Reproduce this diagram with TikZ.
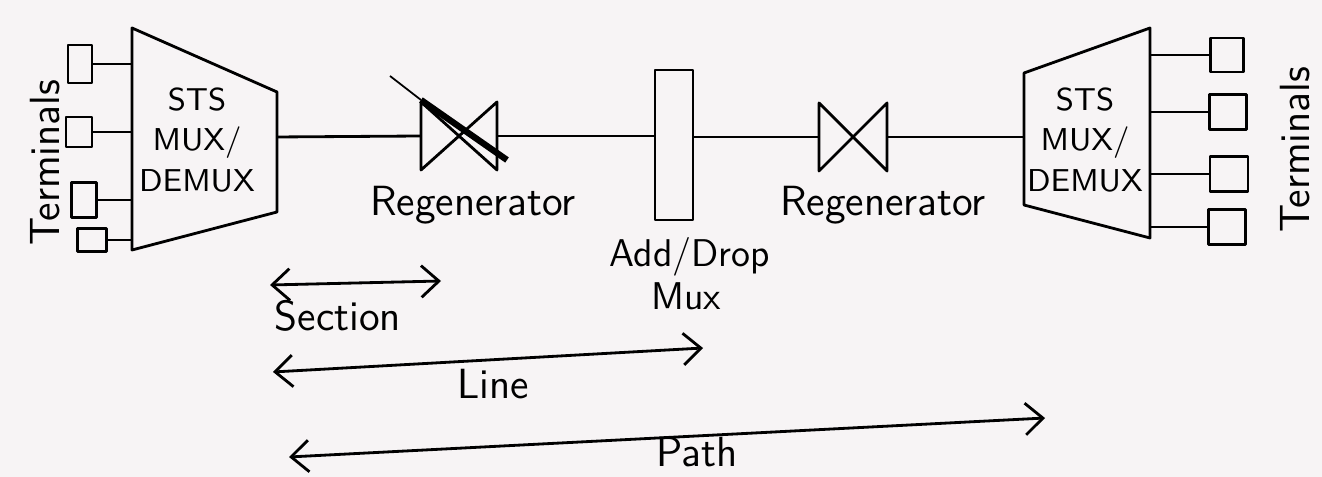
\documentclass[tikz,border=0pt]{standalone}
\usetikzlibrary{arrows.meta,positioning}
\definecolor{paper}{RGB}{247,244,245}
\tikzset{
  wire/.style={line width=0.8pt},
  term/.style={draw, line width=0.8pt, inner sep=0pt},
  tag/.style={font=\sffamily\fontsize{12}{14}\selectfont, align=center, inner sep=1pt},
  muxtag/.style={font=\sffamily\fontsize{9}{11.5}\selectfont, align=center},
  span/.style={line width=0.8pt, {Straight Barb[length=5pt,width=9pt]}-{Straight Barb[length=5pt,width=9pt]}},
  bowtie/.pic={
    \draw[wire] (-#1,-34) -- (-#1,34) -- (#1,-34) -- (#1,34) -- cycle;
    \coordinate (-w) at (-#1,0);
    \coordinate (-e) at (#1,0);
  },
}

\begin{document}
\begin{tikzpicture}[x=0.01cm, y=-0.01cm, line join=round]
\fill[paper] (0,0) rectangle (1322,477);
\useasboundingbox (0,0) rectangle (1322,477);

% left STS mux
\coordinate (lmTL) at (132,28);
\coordinate (lmBL) at (132,250);
\coordinate (lmTR) at (277,92);
\coordinate (lmBR) at (277,212);
\coordinate (lmR) at (277,137);
\draw[wire] (lmTL) -- (lmTR) -- (lmBR) -- (lmBL) -- cycle;
\node[muxtag] (lmux) at (197,140) {STS\\MUX/\\DEMUX};

\foreach \n/\x/\y/\w/\h in {1/80/64/24/38, 2/79/132/26/30, 3/84/200/25/35, 4/92/240/29/23} {
  \node[term, minimum width=\w*0.01cm, minimum height=\h*0.01cm] (lt\n) at (\x,\y) {};
  \draw[wire] (lt\n.east) -- (lt\n.east -| lmTL);
}
\node[tag, rotate=90] (lterm) at (45,163) {Terminals};

% regenerators and add/drop mux
\pic (r1) at (459,136) {bowtie=38};
\draw[line width=0.5pt] (390,76) -- (421,100);
\draw[line width=1.8pt] (421,100) -- (507,160);
\node[tag] (r1lab) at (473,205) {Regenerator};

\node[draw, wire, minimum width=0.38cm, minimum height=1.5cm] (adm) at (674,145) {};
\node[tag, font=\sffamily\fontsize{11}{13}\selectfont, inner sep=0pt] (admlab) at (690,257) {Add/Drop};
\node[tag, font=\sffamily\fontsize{11}{13}\selectfont, inner sep=0pt] (admlab2) at (686,296) {Mux};

\pic (r2) at (853,137) {bowtie=34};
\node[tag] (r2lab) at (883,205) {Regenerator};

% right STS mux
\coordinate (rmTL) at (1024,73);
\coordinate (rmBL) at (1024,205);
\coordinate (rmTR) at (1150,28);
\coordinate (rmBR) at (1150,238);
\draw[wire] (rmTL) -- (rmTR) -- (rmBR) -- (rmBL) -- cycle;
\node[muxtag] (rmux) at (1085,140) {STS\\MUX/\\DEMUX};

\foreach \n/\x/\y/\w/\h in {1/1227/55/33/34, 2/1228/112/37/35, 3/1229/174/38/35, 4/1227/227/37/35} {
  \node[term, minimum width=\w*0.01cm, minimum height=\h*0.01cm] (rt\n) at (\x,\y) {};
  \draw[wire] (rt\n.west -| rmTR) -- (rt\n.west);
}
\node[tag, rotate=90] (rterm) at (1295,150) {Terminals};

% main line
\draw[wire] (lmR) -- (r1-w);
\draw[wire] (r1-e) -- (r1-e -| adm.west);
\draw[wire] (adm.east |- r2-w) -- (r2-w);
\draw[wire] (r2-e) -- (r2-e -| rmTL);

% spans
\coordinate (secL) at (270,285);
\coordinate (secR) at (441,281);
\draw[span] (secL) -- (secR);
\node[tag] (seclab) at (338,316) {Section};

\coordinate (lineL) at (273,372);
\coordinate (lineR) at (703,348);
\draw[span] (lineL) -- (lineR);
\node[tag] (linelab) at (493,384) {Line};

\coordinate (pathL) at (289,457);
\coordinate (pathR) at (1045,418);
\draw[span] (pathL) -- (pathR);
\node[tag] (pathlab) at (697,452) {Path};
\end{tikzpicture}
\end{document}
